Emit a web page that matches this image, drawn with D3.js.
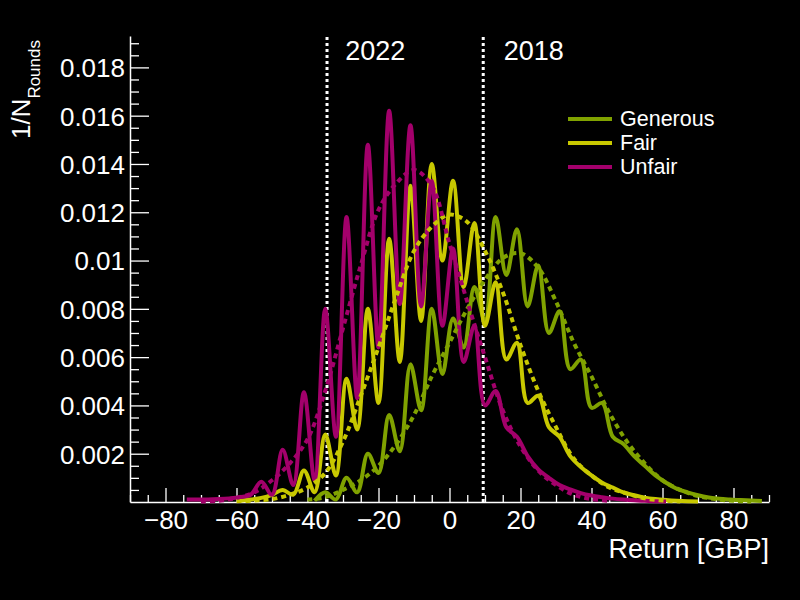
<!DOCTYPE html>
<html>
<head>
<meta charset="utf-8">
<script src="https://cdn.jsdelivr.net/npm/d3@7"></script>
<style>
  html, body { margin: 0; padding: 0; background: #000; }
  svg { display: block; font-family: "Liberation Sans", Arial, sans-serif; }
</style>
</head>
<body>
<svg id="chart"></svg>
<script>
// return bins (GBP) for the measured distributions
const returns = [-74, -71, -68, -65, -62, -59, -56, -53, -50, -47, -44, -41, -38, -35, -32, -29,
  -26, -23, -20, -17, -14, -11, -8, -5, -2, 1, 4, 7, 10, 13, 16, 19, 22, 25, 28, 31, 34, 37,
  40, 43, 46, 49, 52, 55, 58, 61, 64, 67, 70, 73, 76, 79, 82, 85, 88];

const generous = [null, null, null, null, null, null, null, null, null, null, null, null,
  0.00005, 0.0004, 0.0001, 0.0010, 0.0004, 0.0020, 0.0012, 0.0036, 0.0021, 0.0057, 0.0038,
  0.0080, 0.0053, 0.0076, 0.0064, 0.0089, 0.0075, 0.0118, 0.0094, 0.0113, 0.0081, 0.0098,
  0.0070, 0.0079, 0.0055, 0.0059, 0.0039, 0.0041, 0.0027, 0.0024, 0.0019, 0.0015, 0.0011,
  0.0008, 0.00055, 0.0004, 0.00028, 0.00019, 0.00013, 0.0001, 0.00008, 0.00006, 0.00004];

const fair = [null, null, null, null, null, 0.00005, 0.0001, 0.00017, 0.0003, 0.0005, 0.0003,
  0.0013, 0.0004, 0.0028, 0.0011, 0.0051, 0.0030, 0.0080, 0.0041, 0.0109, 0.0058, 0.0131,
  0.0075, 0.0140, 0.0100, 0.0133, 0.0089, 0.01155, 0.0073, 0.0091, 0.0059, 0.0066, 0.0041,
  0.0044, 0.0031, 0.0027, 0.0019, 0.00145, 0.0011, 0.0008, 0.0006, 0.0004, 0.00028, 0.00018,
  0.00012, 0.00008, 0.00005, 0.00003, 0.00002, null, null, null, null, null, null];

const unfair = [0.0001, 0.0001, 0.0001, 0.00012, 0.00015, 0.0002, 0.0003, 0.00084, 0.0003,
  0.00216, 0.0007, 0.00455, 0.0009, 0.0080, 0.0027, 0.0118, 0.0043, 0.0148, 0.0064, 0.0162,
  0.0082, 0.0156, 0.0081, 0.0133, 0.0073, 0.0105, 0.0058, 0.0073, 0.0040, 0.0046, 0.0031,
  0.0027, 0.0019, 0.00135, 0.0010, 0.0007, 0.00052, 0.00037, 0.00027, 0.0002, 0.00014,
  0.0001, 0.00007, 0.00005, 0.00003, 0.00002, null, null, null, null, null, null, null, null, null];

// fitted curves (dashed)
const fitReturns = [-70, -65, -60, -55, -50, -45, -40, -35, -30, -25, -20, -15, -10, -5, 0, 5,
  10, 15, 20, 25, 30, 35, 40, 45, 50, 55, 60, 65, 70, 75, 80, 85, 90];

const generousFit = [null, null, null, null, null, null, 0.0001, 0.0002, 0.0005, 0.0009, 0.0015,
  0.0024, 0.0036, 0.0052, 0.0066, 0.0080, 0.0092, 0.0101, 0.0103, 0.0097, 0.0083, 0.0066,
  0.0052, 0.0037, 0.0025, 0.0016, 0.0009, 0.0005, 0.00025, 0.00012, 0.00005, 0.00002, null];

const fairFit = [null, null, 0.00003, 0.00006, 0.00012, 0.0003, 0.0006, 0.0012, 0.0025, 0.0044,
  0.0064, 0.0085, 0.0104, 0.0114, 0.0119, 0.0116, 0.0104, 0.0087, 0.0065, 0.0046, 0.0031,
  0.0018, 0.0011, 0.0006, 0.00035, 0.00015, 0.00006, 0.00002, null, null, null, null, null];

const unfairFit = [0.00002, 0.00005, 0.00017, 0.0004, 0.0009, 0.0016, 0.0026, 0.0046, 0.0072,
  0.0098, 0.0121, 0.0132, 0.01375, 0.0131, 0.0107, 0.0083, 0.0060, 0.0038, 0.0023, 0.0013,
  0.0007, 0.0003, 0.00012, 0.00005, null, null, null, null, null, null, null, null, null];

const seriesNames = ["Generous", "Fair", "Unfair"];
const seriesColors = ["#80a200", "#c8c800", "#a3006b"];

const xTicks = [-80, -60, -40, -20, 0, 20, 40, 60, 80];
const xTickLabels = ["\u221280", "\u221260", "\u221240", "\u221220", "0", "20", "40", "60", "80"];
const yTicks = [0.002, 0.004, 0.006, 0.008, 0.01, 0.012, 0.014, 0.016, 0.018];
const yTickLabels = ["0.002", "0.004", "0.006", "0.008", "0.01", "0.012", "0.014", "0.016", "0.018"];

const yearLines = [-34.5, 9.5];
const yearLabels = ["2022", "2018"];
const yearLabelAt = [-29.4, 15.3];

const W = 800, H = 600;
const margin = { top: 36, right: 31, bottom: 98, left: 130 };

const svg = d3.select("#chart").attr("width", W).attr("height", H);
svg.append("rect").attr("width", W).attr("height", H).attr("fill", "#000");

const x = d3.scaleLinear().domain([-90, 90]).range([margin.left, W - margin.right]);
const y = d3.scaleLinear().domain([0, 0.0193]).range([H - margin.bottom, margin.top]);

const fontFam = "'Liberation Sans', Arial, sans-serif";

// minor ticks
const xMinor = d3.range(-90, 90.1, 5).filter((v) => v % 20 !== 0);
const yMinor = d3.range(0.0005, 0.0193, 0.0005).filter((v) => Math.abs(v / 0.002 - Math.round(v / 0.002)) > 1e-6);

svg.append("g")
  .attr("transform", `translate(0,${y(0)})`)
  .call(d3.axisBottom(x).tickValues(xMinor).tickSize(-7).tickSizeOuter(0).tickFormat(""))
  .call((g) => g.select(".domain").remove());

svg.append("g")
  .attr("transform", `translate(${x(-90)},0)`)
  .call(d3.axisLeft(y).tickValues(yMinor).tickSize(-9).tickSizeOuter(0).tickFormat(""))
  .call((g) => g.select(".domain").remove());

const xAxis = svg.append("g")
  .attr("transform", `translate(0,${y(0)})`)
  .call(d3.axisBottom(x).tickValues(xTicks).tickSize(-14).tickSizeOuter(0).tickPadding(9)
    .tickFormat((d, i) => xTickLabels[i]));

const yAxis = svg.append("g")
  .attr("transform", `translate(${x(-90)},0)`)
  .call(d3.axisLeft(y).tickValues(yTicks).tickSize(-19).tickSizeOuter(0).tickPadding(5)
    .tickFormat((d, i) => yTickLabels[i]));

svg.selectAll(".tick line").attr("stroke", "#fff").attr("stroke-width", 1.3);
[xAxis, yAxis].forEach((a) => {
  a.select(".domain").attr("stroke", "#fff").attr("stroke-width", 1.5);
  a.selectAll("text").attr("fill", "#fff").style("font-size", "26px").style("font-family", fontFam);
});
yAxis.selectAll("text").attr("dy", "0.36em");

// axis titles
svg.append("text")
  .attr("x", x(90)).attr("y", 558)
  .attr("text-anchor", "end")
  .attr("fill", "#fff")
  .style("font-size", "27px").style("font-family", fontFam)
  .text("Return [GBP]");

const yTitle = svg.append("text")
  .attr("transform", "translate(30,40) rotate(-90)")
  .attr("text-anchor", "end")
  .attr("fill", "#fff")
  .style("font-family", fontFam);
yTitle.append("tspan").style("font-size", "26px").text("1/N");
yTitle.append("tspan").attr("dy", 10).style("font-size", "17px").text("Rounds");

// year markers
yearLines.forEach((v, i) => {
  svg.append("line")
    .attr("x1", x(v)).attr("x2", x(v))
    .attr("y1", y(0)).attr("y2", margin.top)
    .attr("stroke", "#fff").attr("stroke-width", 3)
    .attr("stroke-dasharray", "3,3");
  svg.append("text")
    .attr("x", x(yearLabelAt[i])).attr("y", 60)
    .attr("fill", "#fff")
    .style("font-size", "27px").style("font-family", fontFam)
    .text(yearLabels[i]);
});

// curves
const line = d3.line()
  .defined((d) => d[1] != null)
  .x((d) => x(d[0]))
  .y((d) => y(Math.max(0, d[1])))
  .curve(d3.curveCatmullRom);

const histData = [generous, fair, unfair];
const fitData = [generousFit, fairFit, unfairFit];

histData.forEach((vals, i) => {
  svg.append("path")
    .datum(returns.map((r, j) => [r, vals[j]]))
    .attr("d", line)
    .attr("fill", "none")
    .attr("stroke", seriesColors[i])
    .attr("stroke-width", 4)
    .attr("stroke-linejoin", "round");
});

fitData.forEach((vals, i) => {
  svg.append("path")
    .datum(fitReturns.map((r, j) => [r, vals[j]]))
    .attr("d", line)
    .attr("fill", "none")
    .attr("stroke", seriesColors[i])
    .attr("stroke-width", 4)
    .attr("stroke-dasharray", "5,4");
});

// legend
const legend = svg.append("g").attr("transform", "translate(568,119)");
seriesNames.forEach((name, i) => {
  legend.append("line")
    .attr("x1", 0).attr("x2", 44)
    .attr("y1", i * 24).attr("y2", i * 24)
    .attr("stroke", seriesColors[i]).attr("stroke-width", 4);
  legend.append("text")
    .attr("x", 52).attr("y", i * 24 + 7)
    .attr("fill", "#fff")
    .style("font-size", "21.5px").style("font-family", fontFam)
    .text(name);
});
</script>
</body>
</html>
